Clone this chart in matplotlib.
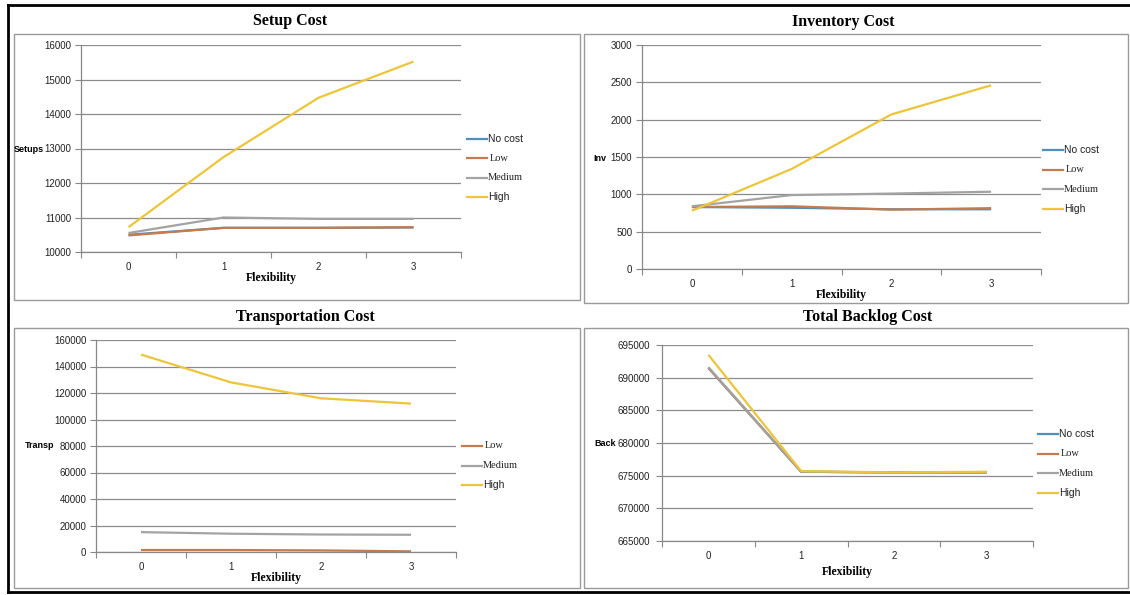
import numpy as np
import matplotlib.pyplot as plt
from matplotlib.patches import Rectangle
from matplotlib.lines import Line2D

flex = [0, 1, 2, 3]

setup_nocost = [10500, 10700, 10700, 10710]
setup_low = [10480, 10700, 10700, 10720]
setup_medium = [10550, 11000, 10960, 10960]
setup_high = [10720, 12750, 14470, 15520]

inv_nocost = [830, 820, 800, 800]
inv_low = [830, 840, 795, 815]
inv_medium = [840, 990, 1010, 1035]
inv_high = [780, 1340, 2070, 2460]

transp_low = [1500, 1500, 1200, 500]
transp_medium = [15000, 13800, 13200, 13000]
transp_high = [149000, 128000, 116000, 112000]

back_nocost = [691500, 675600, 675500, 675500]
back_low = [691500, 675600, 675500, 675500]
back_medium = [691600, 675600, 675500, 675500]
back_high = [693500, 675700, 675500, 675600]

colors = {'No cost': '#4f8fb8', 'Low': '#c47c4e', 'Medium': '#a3a3a3', 'High': '#ecc53a'}

W, H = 1130, 595
fig = plt.figure(figsize=(W / 100, H / 100), dpi=100)
fig.patch.set_facecolor('white')

serif = 'Liberation Serif'
sans = 'Liberation Sans'


def px_rect(x0, y0, x1, y1):
    return [x0 / W, 1 - y1 / H, (x1 - x0) / W, (y1 - y0) / H]


def box(x0, y0, x1, y1):
    fig.patches.append(Rectangle((x0 / W, 1 - y1 / H), (x1 - x0) / W, (y1 - y0) / H,
                                 transform=fig.transFigure, fill=False,
                                 edgecolor='#9a9a9a', linewidth=1.0))


def panel(rect, series, ylim, yticks, ylabel, title, title_xy, ylab_xy, leg_xy, leg_gap,
          xlab_pad=0, ypad=3):
    ax = fig.add_axes(px_rect(*rect))
    for name, vals in series:
        ax.plot(flex, vals, color=colors[name], linewidth=1.6, solid_capstyle='butt')
    ax.set_xlim(-0.5, 3.5)
    ax.set_ylim(*ylim)
    ax.set_yticks(yticks)
    ax.set_yticklabels([str(v) for v in yticks], fontsize=7, family=sans, color='#222222')
    ax.set_xticks([-0.5, 0.5, 1.5, 2.5, 3.5])
    ax.set_xticklabels([])
    ax.set_xticks(flex, minor=True)
    ax.set_xticklabels([str(v) for v in flex], minor=True, fontsize=7, family=sans, color='#222222')
    ax.tick_params(axis='x', which='minor', length=0, pad=7)
    ax.tick_params(axis='x', which='major', length=4, direction='out', color='#888888')
    ax.tick_params(axis='y', length=4, direction='out', color='#888888', pad=ypad)
    ax.grid(axis='y', color='#8c8c8c', linewidth=0.9)
    ax.set_axisbelow(True)
    for s in ['top', 'right']:
        ax.spines[s].set_visible(False)
    for s in ['left', 'bottom']:
        ax.spines[s].set_color('#888888')
        ax.spines[s].set_linewidth(0.9)
    ax.set_xlabel('Flexibility', family=serif, fontweight='bold', fontsize=8.5, labelpad=xlab_pad)
    fig.text(ylab_xy[0] / W, 1 - ylab_xy[1] / H, ylabel, family=sans, fontweight='bold',
             fontsize=6.5, ha='right', va='center')
    fig.text(title_xy[0] / W, 1 - title_xy[1] / H, title, family=serif, fontweight='bold',
             fontsize=11.5, ha='center', va='center')
    # legend drawn by hand to mimic the spreadsheet look
    lx, ly = leg_xy
    for i, (name, _) in enumerate(series):
        y = 1 - (ly + i * leg_gap) / H
        fig.lines.append(Line2D([lx / W, (lx + 20) / W], [y, y], transform=fig.transFigure,
                                color=colors[name], linewidth=1.6))
        fam = serif if name in ('Low', 'Medium') else sans
        off = 3 if name == 'Low' else 1
        fig.text((lx + 20 + off) / W, y, name, family=fam, fontsize=7.5, va='center',
                 ha='left', color='#222222')
    return ax


# outer black frame
for xs, ys in [([8, 1130], [5, 5]), ([8, 8], [5, 592]), ([8, 1130], [592, 592])]:
    fig.lines.append(Line2D([x / W for x in xs], [1 - y / H for y in ys],
                            transform=fig.transFigure, color='black', linewidth=2.0))

box(14, 34, 580, 300)
box(584, 34, 1128, 303)
box(14, 328, 580, 588)
box(584, 328, 1128, 588)

panel((81, 45, 461, 252),
      [('No cost', setup_nocost), ('Low', setup_low), ('Medium', setup_medium), ('High', setup_high)],
      (10000, 16000), list(range(10000, 16001, 1000)), 'Setups', 'Setup Cost', (290, 21),
      (44, 150), (467, 139), 19.5)

panel((642, 45, 1041, 269),
      [('No cost', inv_nocost), ('Low', inv_low), ('Medium', inv_medium), ('High', inv_high)],
      (0, 3000), list(range(0, 3001, 500)), 'Inv', 'Inventory Cost', (843, 22),
      (606, 159), (1043, 150), 19.5)

panel((96, 340, 456, 552),
      [('Low', transp_low), ('Medium', transp_medium), ('High', transp_high)],
      (0, 160000), list(range(0, 160001, 20000)), 'Transp', 'Transportation Cost', (305, 317),
      (54, 446), (462, 446), 19.5)

panel((662, 345, 1033, 541),
      [('No cost', back_nocost), ('Low', back_low), ('Medium', back_medium), ('High', back_high)],
      (665000, 695000), list(range(665000, 695001, 5000)), 'Back', 'Total Backlog Cost', (868, 317),
      (616, 443), (1038, 434), 19.5, xlab_pad=4, ypad=5)

fig.savefig('out.png', dpi=100)
